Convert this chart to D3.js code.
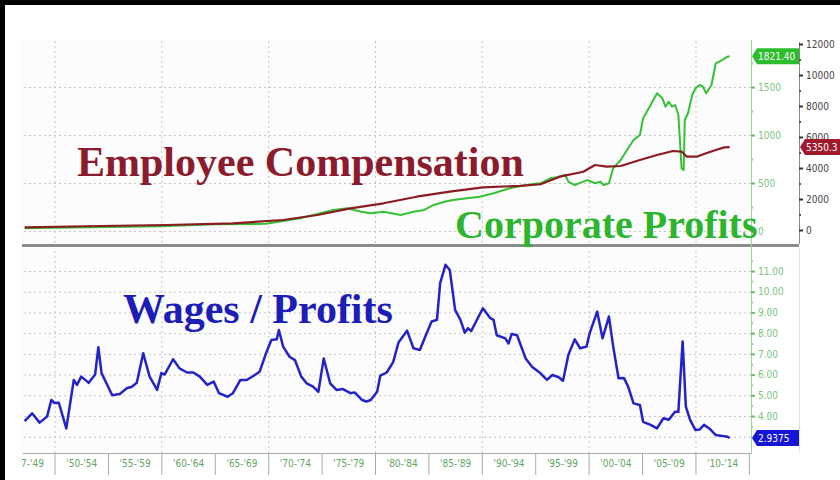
<!DOCTYPE html>
<html lang="en">
<head>
<meta charset="utf-8">
<title>Employee Compensation vs Corporate Profits</title>
<script src="https://d3js.org/d3.v7.min.js"></script>
<style>
body { margin: 0; background: #fff; }
svg { display: block; }
.grid line { stroke: #c4c4c4; stroke-dasharray: 2,3; }
.grid path { display: none; }
.ax text { font-family: "DejaVu Sans Condensed", "DejaVu Sans", sans-serif; }
.title { font-family: "Liberation Serif", "Times New Roman", serif; font-weight: bold; font-size: 42px; }
</style>
</head>
<body>
<svg width="840" height="480"></svg>
<script>
// ---- data ----
// wages / profits ratio (bottom panel)
const ratioYears = [1947.2,1947.9,1948.6,1949.3,1949.7,1950.0,1950.4,1951.1,1951.8,1952.1,1952.5,1953.2,1953.8,1954.1,1954.4,1955.4,1956.1,1956.8,1957.2,1957.7,1958.3,1958.9,1959.6,1960.0,1960.3,1961.1,1961.7,1962.4,1963.0,1963.6,1964.3,1964.9,1965.4,1966.2,1966.7,1967.4,1968.0,1968.6,1969.2,1969.8,1970.3,1970.8,1971.0,1971.4,1972.0,1972.5,1973.1,1973.6,1974.2,1974.7,1975.2,1975.8,1976.4,1977.0,1977.7,1978.1,1978.8,1979.2,1979.6,1980.2,1980.5,1981.1,1981.7,1982.2,1983.0,1983.6,1984.2,1984.7,1985.3,1985.8,1986.1,1986.6,1987.0,1987.5,1988.0,1988.4,1988.7,1989.0,1990.1,1990.8,1991.1,1991.4,1992.2,1992.5,1992.8,1993.3,1994.1,1994.7,1995.5,1996.1,1996.6,1997.2,1997.6,1998.1,1998.7,1999.2,1999.8,2000.1,2000.8,2001.3,2001.9,2002.3,2002.8,2003.3,2003.7,2004.2,2004.8,2005.1,2005.8,2006.4,2007.0,2007.5,2008.1,2008.4,2008.8,2009.1,2009.5,2010.0,2010.4,2010.8,2011.3,2011.9,2012.5,2013.0,2013.2];
const ratioVals = [3.75,4.13,3.68,3.97,4.77,4.63,4.64,3.4,5.74,5.5,5.9,5.6,6.0,7.32,6.07,5.0,5.06,5.35,5.4,5.6,7.03,5.9,5.26,6.07,6.0,6.74,6.3,6.1,6.1,5.9,5.5,5.66,5.1,4.93,5.1,5.74,5.74,5.93,6.14,7.03,7.67,7.7,8.15,7.35,6.86,6.7,5.9,5.58,5.42,5.17,6.78,5.58,5.26,5.3,5.1,5.14,4.77,4.7,4.77,5.17,5.95,6.1,6.6,7.55,8.12,7.27,7.19,7.83,8.56,8.64,10.41,11.3,11.05,9.12,8.64,8.02,8.24,8.1,9.2,8.72,8.64,7.9,7.75,7.5,7.96,7.9,6.78,6.38,6.06,5.74,5.98,5.87,5.7,6.95,7.7,7.27,7.35,8.0,9.04,7.75,8.8,7.35,5.82,5.84,5.42,4.61,4.53,3.72,3.57,3.4,3.89,3.82,4.21,4.2,7.6,4.45,3.81,3.32,3.35,3.57,3.4,3.08,3.04,3.0,2.9375];

// corporate profits (top panel, green scale)
const profitYears = [1947.2,1950,1955,1960,1965,1969.8,1973,1976.1,1977.4,1978.7,1979.6,1980.8,1982.4,1983.6,1984.6,1985.5,1986.5,1987.3,1988.6,1989.8,1991.1,1992.6,1993.6,1994.8,1995.5,1996.4,1997.0,1997.8,1998.1,1998.7,1999.5,1999.9,2000.6,2001.1,2001.4,2001.9,2002.3,2003.0,2003.6,2004.2,2004.8,2005.1,2005.8,2006.4,2006.9,2007.2,2007.5,2007.8,2008.1,2008.4,2008.7,2008.9,2009.0,2009.3,2009.7,2010.0,2010.4,2010.7,2011.0,2011.5,2011.9,2012.5,2013.0,2013.2];
const profitVals = [28,35,42,50,70,75,132,219,236,201,184,201,167,201,219,271,305,323,340,357,393,445,469,490,497,549,559,583,514,479,514,530,497,514,479,497,653,740,844,948,1000,1174,1312,1434,1382,1295,1347,1295,1312,1208,653,635,1156,1226,1417,1486,1521,1504,1434,1521,1747,1781,1816,1821.4];

// employee compensation (top panel, black scale)
const compYears = [1947.2,1954.3,1960.5,1966.7,1971.4,1974.6,1977.7,1980.8,1983.9,1987.0,1990.1,1993.6,1995.5,1997.3,1999.5,2000.6,2001.7,2003.0,2004.8,2006.4,2007.9,2008.7,2009.2,2010.1,2011.0,2011.9,2012.7,2013.2];
const compVals = [174,258,323,432,645,968,1400,1723,2148,2471,2755,2850,2950,3439,3761,4194,4084,4129,4516,4839,5097,5060,4729,4729,4948,5161,5330,5350.3];

// axis ticks and bins
const decades = [1950,1960,1970,1980,1990,2000,2010];
const profitTicks = [0,500,1000,1500];
const compTicks = [0,2000,4000,6000,8000,10000,12000];
const ratioTicks = [3,4,5,6,7,8,9,10,11];
const binStarts = [1945,1950,1955,1960,1965,1970,1975,1980,1985,1990,1995,2000,2005,2010];
const binLabels = ["'47-'49","'50-'54","'55-'59","'60-'64","'65-'69","'70-'74","'75-'79","'80-'84","'85-'89","'90-'94","'95-'99","'00-'04","'05-'09","'10-'14"];

// ---- layout ----
const svg = d3.select("svg");
const left = 22, right = 751, farRight = 799;
const topP = {y0: 40, y1: 243}, botP = {y0: 248, y1: 453};

svg.append("rect").attr("width", 840).attr("height", 480).attr("fill", "#fff");
svg.append("rect").attr("width", 840).attr("height", 5).attr("fill", "#000");
svg.append("rect").attr("width", 5).attr("height", 480).attr("fill", "#000");

svg.append("rect").attr("x", left).attr("y", topP.y0).attr("width", right - left).attr("height", topP.y1 - topP.y0).attr("fill", "#fcfcfc");
svg.append("rect").attr("x", left).attr("y", botP.y0).attr("width", right - left).attr("height", botP.y1 - botP.y0).attr("fill", "#fcfcfc");

const x = d3.scaleLinear().domain([1947, 2015.2]).range([left + 0.5, right]);
const yProfit = d3.scaleLinear().domain([0, 1500]).range([231, 87]);
const yComp = d3.scaleLinear().domain([0, 12000]).range([230, 44]);
const yRatio = d3.scaleLinear().domain([4, 11]).range([416, 271]);

// gridlines
svg.append("g").attr("class", "grid").attr("transform", `translate(0,${topP.y1})`)
  .call(d3.axisBottom(x).tickValues(decades).tickSize(-(topP.y1 - topP.y0)).tickFormat(""));
svg.append("g").attr("class", "grid").attr("transform", `translate(0,${botP.y1})`)
  .call(d3.axisBottom(x).tickValues(decades).tickSize(-(botP.y1 - botP.y0)).tickFormat(""));
svg.append("g").attr("class", "grid").attr("transform", `translate(${right},0)`)
  .call(d3.axisLeft(yProfit).tickValues(profitTicks).tickSize(right - left).tickFormat(""));
svg.append("g").attr("class", "grid").attr("transform", `translate(${right},0)`)
  .call(d3.axisLeft(yRatio).tickValues(ratioTicks).tickSize(right - left).tickFormat(""));

// panel separator
svg.append("line").attr("x1", left).attr("x2", farRight).attr("y1", 245.5).attr("y2", 245.5)
  .attr("stroke", "#8c8c8c").attr("stroke-width", 3);

// right-hand axes
svg.append("line").attr("x1", right + 0.5).attr("x2", right + 0.5).attr("y1", topP.y0).attr("y2", botP.y1)
  .attr("stroke", "#9fd49f");
svg.append("line").attr("x1", farRight + 0.5).attr("x2", farRight + 0.5).attr("y1", 42).attr("y2", 244)
  .attr("stroke", "#8a8a8a");
svg.append("line").attr("x1", farRight + 0.5).attr("x2", farRight + 0.5).attr("y1", 248).attr("y2", botP.y1)
  .attr("stroke", "#e2e2e2");

function styleAxis(g, col, txt) {
  g.select(".domain").remove();
  g.selectAll(".tick line").attr("stroke", col).attr("stroke-width", 2);
  g.selectAll("text").attr("fill", txt).attr("font-size", 10);
}

svg.append("g").attr("class", "ax").attr("transform", `translate(${right},0)`)
  .call(d3.axisRight(yProfit).tickValues(d3.range(0, 1751, 250)).tickSize(2).tickFormat(""))
  .call(g => styleAxis(g, "#8fcf8f", "#7cc47c"));
svg.append("g").attr("class", "ax").attr("transform", `translate(${right},0)`)
  .call(d3.axisRight(yProfit).tickValues(profitTicks).tickSize(4).tickPadding(3).tickFormat(d3.format("d")))
  .call(g => styleAxis(g, "#6fbf6f", "#7cc47c"));

svg.append("g").attr("class", "ax").attr("transform", `translate(${farRight},0)`)
  .call(d3.axisRight(yComp).tickValues(d3.range(1000, 12000, 2000)).tickSize(2).tickFormat(""))
  .call(g => styleAxis(g, "#555", "#444"));
svg.append("g").attr("class", "ax").attr("transform", `translate(${farRight},0)`)
  .call(d3.axisRight(yComp).tickValues(compTicks).tickSize(4).tickPadding(3).tickFormat(d3.format("d")))
  .call(g => styleAxis(g, "#333", "#444"));

svg.append("g").attr("class", "ax").attr("transform", `translate(${right},0)`)
  .call(d3.axisRight(yRatio).tickValues(d3.range(3.5, 11.6, 0.5)).tickSize(2).tickFormat(""))
  .call(g => styleAxis(g, "#8fcf8f", "#7cc47c"));
svg.append("g").attr("class", "ax").attr("transform", `translate(${right},0)`)
  .call(d3.axisRight(yRatio).tickValues(ratioTicks.filter(d => d >= 4)).tickSize(4).tickPadding(3).tickFormat(d3.format(".2f")))
  .call(g => styleAxis(g, "#6fbf6f", "#7cc47c"));

// bottom time axis: bin separators and bin labels
svg.append("defs").append("clipPath").attr("id", "xclip")
  .append("rect").attr("x", left).attr("y", botP.y1).attr("width", farRight - left).attr("height", 30);

svg.append("g").attr("class", "ax").attr("transform", `translate(0,${botP.y1})`)
  .call(d3.axisBottom(x).tickValues(binStarts.slice(1).concat([2015])).tickSize(22).tickFormat("").tickSizeOuter(0))
  .call(g => {
    g.select(".domain").attr("stroke", "#aaa");
    g.selectAll(".tick line").attr("stroke", "#aaa");
  });
svg.append("g").attr("clip-path", "url(#xclip)")
  .append("g").attr("class", "ax").attr("transform", `translate(0,${botP.y1})`)
  .call(d3.axisBottom(x).tickValues(binStarts.map(d => d + 2.5)).tickSize(0).tickPadding(7)
    .tickFormat((d, i) => binLabels[i]))
  .call(g => {
    g.select(".domain").remove();
    g.selectAll("text").attr("fill", "#5fa55f").attr("font-size", 10);
  });

// ---- lines ----
const pLine = d3.line().x(d => x(d[0])).y(d => yProfit(d[1]));
const cLine = d3.line().x(d => x(d[0])).y(d => yComp(d[1]));
const rLine = d3.line().x(d => x(d[0])).y(d => yRatio(d[1]));

svg.append("path").datum(d3.zip(profitYears, profitVals)).attr("d", pLine)
  .attr("fill", "none").attr("stroke", "#35c135").attr("stroke-width", 2).attr("stroke-linejoin", "round");
svg.append("path").datum(d3.zip(compYears, compVals)).attr("d", cLine)
  .attr("fill", "none").attr("stroke", "#8a1c22").attr("stroke-width", 2.2).attr("stroke-linejoin", "round");
svg.append("path").datum(d3.zip(ratioYears, ratioVals)).attr("d", rLine)
  .attr("fill", "none").attr("stroke", "#2323c8").attr("stroke-width", 2.5).attr("stroke-linejoin", "round");

// ---- last-value flags ----
function flag(x0, yc, w, fill, label) {
  const h = 16;
  svg.append("path")
    .attr("d", `M${x0},${yc} L${x0 + 5},${yc - h / 2} L${x0 + w},${yc - h / 2} L${x0 + w},${yc + h / 2} L${x0 + 5},${yc + h / 2} Z`)
    .attr("fill", fill);
  svg.append("text").attr("x", x0 + 6).attr("y", yc + 3.5).attr("fill", "#fff")
    .attr("font-family", "'DejaVu Sans Condensed', 'DejaVu Sans', sans-serif").attr("font-size", 10)
    .text(label);
}
flag(right + 1, yProfit(profitVals[profitVals.length - 1]), 47, "#2cbd2c", "1821.40");
flag(farRight + 1, yComp(compVals[compVals.length - 1]), 40, "#a3192c", "5350.3");
flag(right + 1, yRatio(ratioVals[ratioVals.length - 1]), 47, "#1515d6", "2.9375");

// ---- big annotations ----
svg.append("text").attr("class", "title").attr("x", 77).attr("y", 176).attr("fill", "#8b1b2d").text("Employee Compensation");
svg.append("text").attr("class", "title").attr("x", 455).attr("y", 238).attr("fill", "#2db52d")
  .style("font-size", "40px").text("Corporate Profits");
svg.append("text").attr("class", "title").attr("x", 123).attr("y", 323).attr("fill", "#1d1db8").text("Wages / Profits");
</script>
</body>
</html>
